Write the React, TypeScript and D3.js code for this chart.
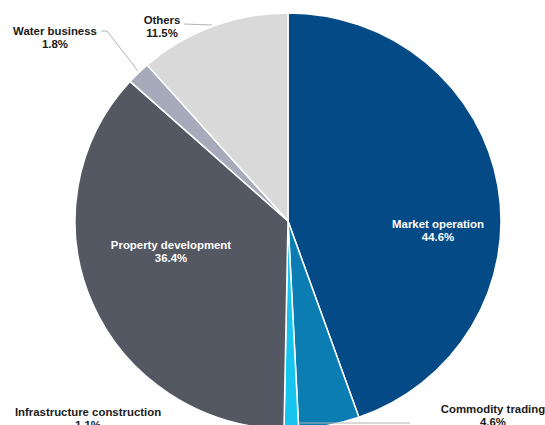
import React from "react";
import * as d3 from "d3";

const categories = [
  "Market operation",
  "Commodity trading",
  "Infrastructure construction",
  "Property development",
  "Water business",
  "Others",
];
const values = [44.6, 4.6, 1.1, 36.4, 1.8, 11.5];
const colors = ["#034a87", "#0b7db3", "#17c4f0", "#545863", "#a7aabb", "#d9d9d9"];

const W = 545;
const H = 425;
const cx = 288;
const cy = 221;
const R = 213;
const yScale = 0.977;

// label layout (x, y of first line, inside?, leader line points)
const labelLayout: Record<string, { x: number; y: number; inside: boolean; leader?: [number, number][] }> = {
  "Market operation": { x: 438, y: 228, inside: true },
  "Property development": { x: 171, y: 249, inside: true },
  Others: { x: 162, y: 24, inside: false, leader: [[184, 24], [212, 25]] },
  "Water business": { x: 55, y: 35, inside: false, leader: [[101, 31], [107, 31], [138, 71]] },
  "Infrastructure construction": { x: 88, y: 416, inside: false },
  "Commodity trading": { x: 493, y: 413, inside: false, leader: [[300, 423], [410, 423]] },
};

export default function App() {
  const data = categories.map((c, i) => ({ category: c, value: values[i], color: colors[i] }));
  const pie = d3
    .pie<{ category: string; value: number; color: string }>()
    .value((d) => d.value)
    .sort(null);
  const arc = d3
    .arc<d3.PieArcDatum<{ category: string; value: number; color: string }>>()
    .innerRadius(0)
    .outerRadius(R);
  const arcs = pie(data);
  const fmt = d3.format(".1f");

  return (
    <svg
      width={W}
      height={H}
      style={{ position: "absolute", left: 0, top: 0, background: "#ffffff" }}
      fontFamily="'Liberation Sans', Arial, sans-serif"
    >
      <g transform={`translate(${cx},${cy}) scale(1,${yScale})`}>
        {arcs.map((a) => (
          <path
            key={a.data.category}
            d={arc(a) || ""}
            fill={a.data.color}
            stroke="#ffffff"
            strokeWidth={1.5}
            vectorEffect="non-scaling-stroke"
          />
        ))}
      </g>
      {arcs.map((a) => {
        const l = labelLayout[a.data.category];
        const fill = l.inside ? "#ffffff" : "#1a1a1a";
        return (
          <g key={"l" + a.data.category}>
            {l.leader && (
              <polyline
                points={l.leader.map((p) => p.join(",")).join(" ")}
                fill="none"
                stroke="#b3b3b3"
                strokeWidth={1}
              />
            )}
            <text
              x={l.x}
              y={l.y}
              textAnchor="middle"
              fontSize={11.4}
              fontWeight="bold"
              fill={fill}
            >
              <tspan x={l.x} dy={0}>{a.data.category}</tspan>
              <tspan x={l.x} dy={12.5}>{fmt(a.data.value)}%</tspan>
            </text>
          </g>
        );
      })}
    </svg>
  );
}
